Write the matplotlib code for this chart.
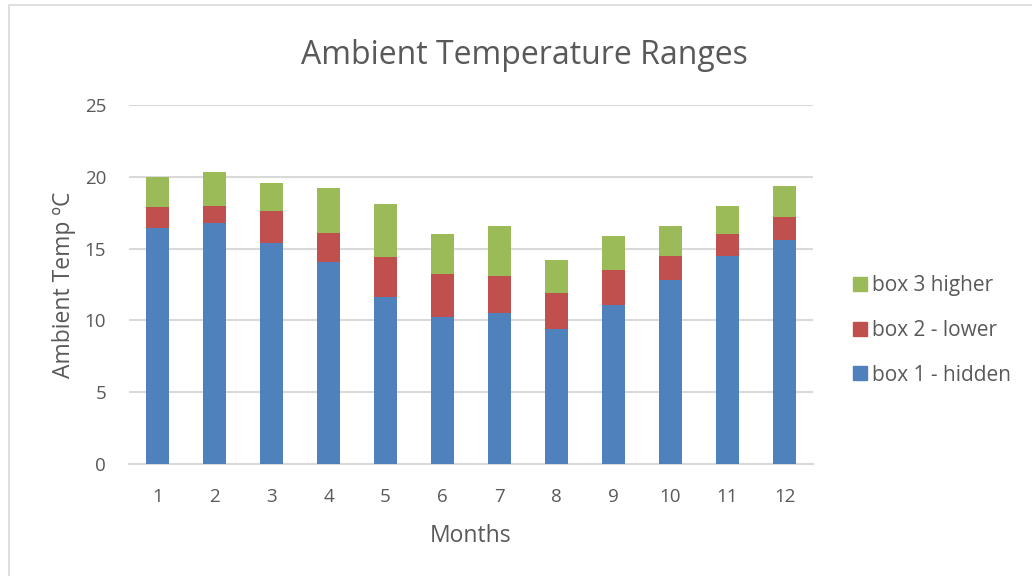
import matplotlib
matplotlib.use("Agg")
import matplotlib.pyplot as plt
from matplotlib.patches import Rectangle, Patch

plt.rcParams['font.family'] = ['Open Sans', 'DejaVu Sans']

months = [1, 2, 3, 4, 5, 6, 7, 8, 9, 10, 11, 12]
box1_hidden = [16.4, 16.75, 15.4, 14.05, 11.65, 10.25, 10.55, 9.4, 11.1, 12.8, 14.5, 15.6]
box2_lower = [1.5, 1.2, 2.2, 2.05, 2.75, 2.95, 2.55, 2.5, 2.4, 1.65, 1.55, 1.6]
box3_higher = [2.1, 2.35, 2.0, 3.1, 3.7, 2.85, 3.45, 2.3, 2.35, 2.15, 1.95, 2.15]
y_ticks = [0, 5, 10, 15, 20, 25]

c_blue = '#4f81bd'
c_red = '#c0504d'
c_green = '#9bbb59'
c_text = '#595959'
c_grid = '#d9d9d9'

fig = plt.figure(figsize=(10.32, 5.76), dpi=100)
fig.patch.set_facecolor('white')

# chart frame
fig.add_artist(Rectangle((9 / 1032, -0.01), 1.02, 1 - 5 / 576 + 0.01,
                         transform=fig.transFigure, fill=False,
                         edgecolor=c_grid, linewidth=1.2))

ax = fig.add_axes([129 / 1032, (576 - 464) / 576, (813 - 129) / 1032, (464 - 105) / 576])

x = list(range(len(months)))
w = 0.4
bottom2 = box1_hidden
bottom3 = [a + b for a, b in zip(box1_hidden, box2_lower)]
ax.bar(x, box1_hidden, width=w, color=c_blue, zorder=3)
ax.bar(x, box2_lower, width=w, bottom=bottom2, color=c_red, zorder=3)
ax.bar(x, box3_higher, width=w, bottom=bottom3, color=c_green, zorder=3)

ax.set_xlim(-0.5, len(months) - 0.5)
ax.set_ylim(0, 25)
ax.set_yticks(y_ticks)
ax.set_xticks(x)
ax.set_xticklabels([str(m) for m in months])
ax.yaxis.grid(True, color=c_grid, linewidth=1.5, zorder=0)
ax.set_axisbelow(True)
for s in ['top', 'right', 'left']:
    ax.spines[s].set_visible(False)
ax.spines['bottom'].set_color(c_grid)
ax.spines['bottom'].set_linewidth(1.5)
ax.tick_params(axis='both', length=0, labelsize=13.5, colors=c_text)
ax.tick_params(axis='y', pad=16.5)
ax.tick_params(axis='x', pad=17)

ax.set_xlabel('Months', fontsize=16.5, color=c_text, labelpad=13)
ax.set_ylabel('Ambient Temp ºC', fontsize=16.5, color=c_text, labelpad=6)

fig.text(524 / 1032, 1 - 64 / 576, 'Ambient Temperature Ranges', ha='center', va='baseline',
         fontsize=23, color=c_text)

handles = [Patch(color=c_green), Patch(color=c_red), Patch(color=c_blue)]
labels = ['box 3 higher', 'box 2 - lower', 'box 1 - hidden']
fig.legend(handles, labels, loc='center left', bbox_to_anchor=(834.5 / 1032, 1 - 330.5 / 576),
           frameon=False, fontsize=15, labelcolor=c_text, handlelength=0.67, handleheight=0.67,
           handletextpad=0.25, labelspacing=1.13)

fig.savefig('out.png', dpi=100)
